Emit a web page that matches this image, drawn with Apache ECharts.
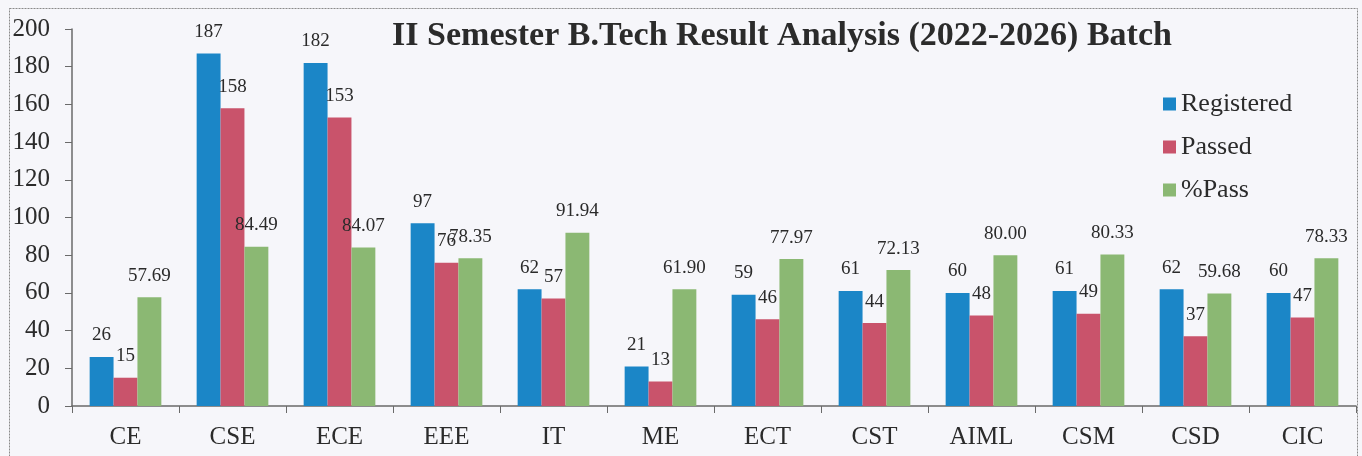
<!DOCTYPE html>
<html>
<head>
<meta charset="utf-8">
<script src="https://cdn.jsdelivr.net/npm/echarts@6/dist/echarts.min.js"></script>
<style>
  html, body { margin: 0; padding: 0; background: #f6f6fa; }
  #chart { width: 1362px; height: 456px; }
</style>
</head>
<body>
<div id="chart"></div>
<script>
const branches = ["CE", "CSE", "ECE", "EEE", "IT", "ME", "ECT", "CST", "AIML", "CSM", "CSD", "CIC"];
const registered = [26, 187, 182, 97, 62, 21, 59, 61, 60, 61, 62, 60];
const passed = [15, 158, 153, 76, 57, 13, 46, 44, 48, 49, 37, 47];
const passPct = [57.69, 84.49, 84.07, 78.35, 91.94, 61.90, 77.97, 72.13, 80.00, 80.33, 59.68, 78.33];

const serif = '"Liberation Serif", "DejaVu Serif", serif';

const labelStyle = {
    show: true,
    position: "top",
    distance: 12,
    fontFamily: serif,
    fontSize: 19,
    color: "#2a2a2a",
};

const chart = echarts.init(document.getElementById("chart"));

chart.setOption({
    backgroundColor: "#f6f6fa",
    animation: false,
    title: {
        text: "II Semester B.Tech Result Analysis (2022-2026) Batch",
        left: 777,
        top: 14,
        textAlign: "center",
        textStyle: {
            fontFamily: serif,
            fontWeight: "bold",
            fontSize: 34,
            color: "#2b2b2b",
        },
    },
    legend: {
        orient: "vertical",
        left: 1158,
        top: 86,
        itemWidth: 13,
        itemHeight: 13,
        itemGap: 17,
        icon: "rect",
        textStyle: { fontFamily: serif, fontSize: 26, color: "#2b2b2b" },
        data: ["Registered", "Passed", "%Pass"],
    },
    grid: { left: 72, right: 6, top: 29, bottom: 50 },
    xAxis: {
        type: "category",
        data: branches,
        axisLine: { lineStyle: { color: "#6a6a6a", width: 1.5 } },
        axisTick: { show: true, length: 7, lineStyle: { color: "#6a6a6a" } },
        axisLabel: { fontFamily: serif, fontSize: 25, color: "#2b2b2b", margin: 19 },
    },
    yAxis: {
        type: "value",
        min: 0,
        max: 200,
        interval: 20,
        splitLine: { show: false },
        axisLine: { show: true, lineStyle: { color: "#6a6a6a", width: 1.5 } },
        axisTick: { show: true, length: 7, lineStyle: { color: "#6a6a6a" } },
        axisLabel: { fontFamily: serif, fontSize: 25, color: "#2b2b2b", margin: 22 },
    },
    series: [
        {
            name: "Registered",
            type: "bar",
            data: registered,
            barGap: "0%",
            barCategoryGap: "33%",
            itemStyle: { color: "#1b86c7" },
            label: labelStyle,
        },
        {
            name: "Passed",
            type: "bar",
            data: passed,
            itemStyle: { color: "#c9536b" },
            label: labelStyle,
        },
        {
            name: "%Pass",
            type: "bar",
            data: passPct,
            itemStyle: { color: "#8bb873" },
            label: { ...labelStyle, formatter: (p) => p.value.toFixed(2) },
        },
    ],
    graphic: [
        {
            type: "rect",
            left: 7,
            top: 6,
            shape: { width: 1348, height: 460 },
            style: { fill: "none", stroke: "#8a8a8a", lineWidth: 1, lineDash: [2, 1] },
            silent: true,
        },
    ],
});
</script>
</body>
</html>
